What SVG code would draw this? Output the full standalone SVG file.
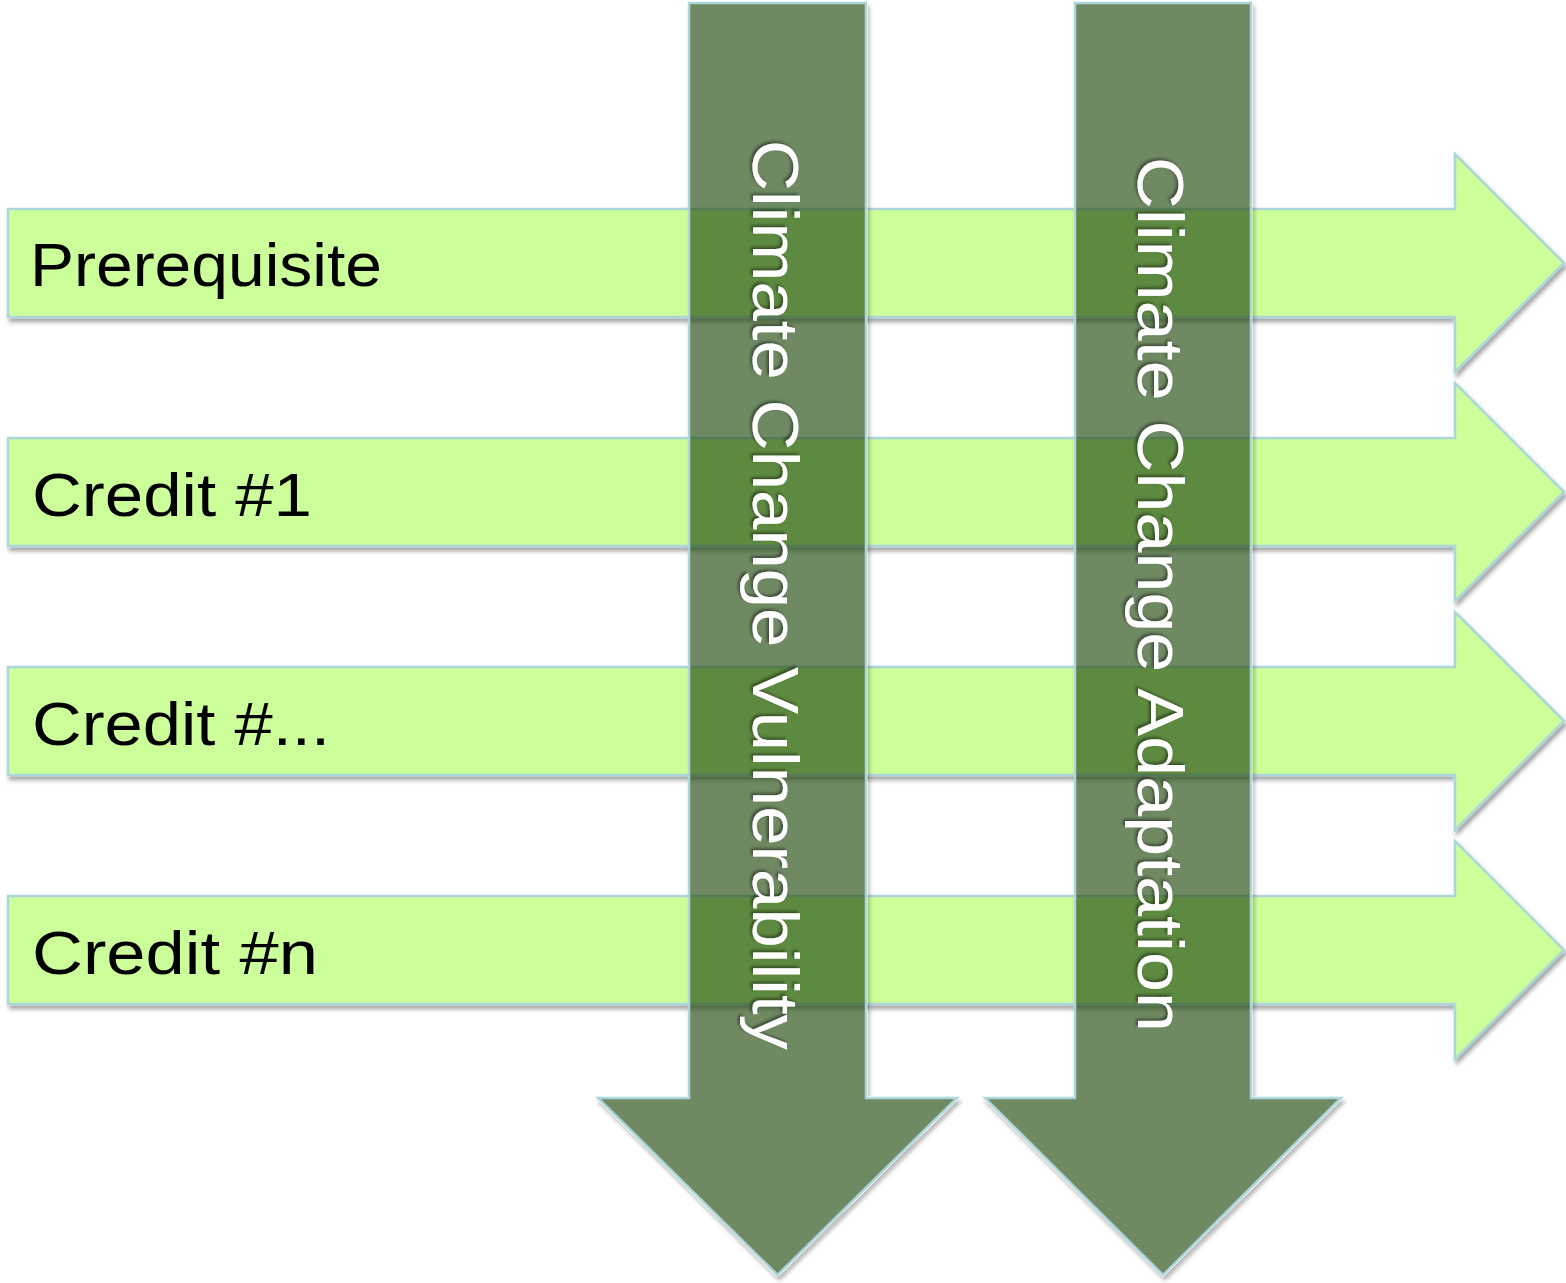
<svg xmlns="http://www.w3.org/2000/svg" width="1566" height="1283" viewBox="0 0 1566 1283">
<defs>
<style>
.h{fill:#ccff99;stroke:#acd6da;stroke-width:2.5;filter:url(#sh)}
.v{fill:#284b17;fill-opacity:0.66;stroke:#acd6da;stroke-width:2.5;filter:url(#sho)}
.lbl{font-family:"Liberation Sans",Arial,sans-serif;font-size:62px;fill:#000}
.vt{font-family:"Liberation Sans",Arial,sans-serif;font-size:65px;fill:#fff;filter:url(#ts)}
</style>
<filter id="sh" x="-5%" y="-20%" width="110%" height="140%">
<feDropShadow dx="2" dy="4" stdDeviation="2" flood-color="#000" flood-opacity="0.35"/>
</filter>
<filter id="sho" x="-20%" y="-5%" width="140%" height="110%">
<feGaussianBlur in="SourceAlpha" stdDeviation="2" result="b"/>
<feOffset in="b" dx="2" dy="4" result="o"/>
<feComponentTransfer in="o" result="oc"><feFuncA type="linear" slope="0.35"/></feComponentTransfer>
<feComponentTransfer in="SourceAlpha" result="m"><feFuncA type="linear" slope="20"/></feComponentTransfer>
<feComposite in="oc" in2="m" operator="out" result="so"/>
<feMerge><feMergeNode in="so"/><feMergeNode in="SourceGraphic"/></feMerge>
</filter>
<filter id="ts" x="-5%" y="-20%" width="110%" height="140%">
<feDropShadow dx="-2" dy="2" stdDeviation="1.5" flood-color="#000" flood-opacity="0.45"/>
</filter>
</defs>
<rect width="1566" height="1283" fill="#fff"/>
<g id="row-prerequisite">
<path class="h" d="M8,209 H1455 V154 L1564,263 L1455,372 V317 H8 Z"/>
<text class="lbl" x="30" y="286" textLength="352" lengthAdjust="spacingAndGlyphs">Prerequisite</text>
</g>
<g id="row-credit-1">
<path class="h" d="M8,438 H1455 V383 L1564,492 L1455,601 V546 H8 Z"/>
<text class="lbl" x="32" y="516" textLength="280" lengthAdjust="spacingAndGlyphs">Credit #1</text>
</g>
<g id="row-credit-dots">
<path class="h" d="M8,667 H1455 V612 L1564,721 L1455,830 V775 H8 Z"/>
<text class="lbl" x="32" y="745" textLength="298" lengthAdjust="spacingAndGlyphs">Credit #...</text>
</g>
<g id="row-credit-n">
<path class="h" d="M8,896 H1455 V841 L1564,950 L1455,1059 V1004 H8 Z"/>
<text class="lbl" x="32" y="974" textLength="286" lengthAdjust="spacingAndGlyphs">Credit #n</text>
</g>
<g id="col-vulnerability">
<path class="v" d="M689,3 H866 V1098 H957 L777.5,1275 L598,1098 H689 Z"/>
<text class="vt" transform="translate(753,140) rotate(90)" x="0" y="0" textLength="910" lengthAdjust="spacingAndGlyphs">Climate Change Vulnerability</text>
</g>
<g id="col-adaptation">
<path class="v" d="M1075,3 H1251 V1098 H1341 L1163,1275 L985,1098 H1075 Z"/>
<text class="vt" transform="translate(1138,157) rotate(90)" x="0" y="0" textLength="875" lengthAdjust="spacingAndGlyphs">Climate Change Adaptation</text>
</g>
</svg>
